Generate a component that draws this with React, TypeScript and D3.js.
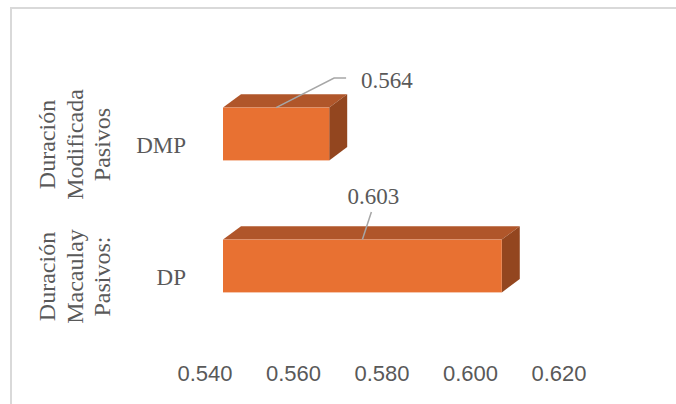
import React from "react";
import * as d3 from "d3";

// Categories (bottom level) and their group captions (top level, wrapped lines)
const categories = ["DMP", "DP"];
const groupLines = [
  ["Duración", "Modificada", "Pasivos"],
  ["Duración", "Macaulay", "Pasivos:"],
];
const values = [0.564, 0.603];
const valueLabels = ["0.564", "0.603"];
const tickValues = [0.54, 0.56, 0.58, 0.6, 0.62];

const W = 676;
const H = 404;

// 3D extrusion offset of the bars (towards the back wall)
const DEPTH_X = 18;
const DEPTH_Y = -13.3;

const FRONT = "#E87132";
const TOP = "#B0562A";
const SIDE = "#93461F";
const TEXT = "#595959";
const LEADER = "#A6A6A6";
const SERIF = "'Liberation Serif', 'Times New Roman', serif";
const SANS = "'Liberation Sans', Arial, sans-serif";

export default function App() {
  const x = d3.scaleLinear().domain([0.54, 0.62]).range([223, 577]);
  const y = d3
    .scaleBand<string>()
    .domain(categories)
    .range([68, 332])
    .paddingInner(0.6)
    .paddingOuter(0.3);
  const bw = y.bandwidth();
  const fmt = d3.format(".3f");

  // label placement per bar: offset from the anchor on the bar's top edge
  const labelLayout = [
    { elbow: [58, -29.5], end: [70, -29.5], text: [85, -20], anchor: "start" },
    { elbow: [9, -27.5], end: [9, -27.5], text: [11, -35.5], anchor: "middle" },
  ];

  return (
    <svg
      width={W}
      height={H}
      style={{ position: "absolute", left: 0, top: 0, background: "#fff" }}
    >
      {/* chart frame */}
      <rect x={11} y={8} width={W + 20} height={H + 20} fill="none" stroke="#D9D9D9" strokeWidth={2} />

      {/* value axis labels (on the floor's front edge) */}
      {tickValues.map((t) => (
        <text
          key={t}
          x={x(t) - DEPTH_X}
          y={381}
          textAnchor="middle"
          fontFamily={SANS}
          fontSize={22}
          fill={TEXT}
        >
          {fmt(t)}
        </text>
      ))}

      {/* bars */}
      {categories.map((c, i) => {
        const x0 = x(0.54);
        const x1 = x(values[i]);
        const y0 = y(c)!;
        const y1 = y0 + bw;
        const top = `M${x0},${y0} L${x0 + DEPTH_X},${y0 + DEPTH_Y} L${x1 + DEPTH_X},${y0 + DEPTH_Y} L${x1},${y0} Z`;
        const side = `M${x1},${y0} L${x1 + DEPTH_X},${y0 + DEPTH_Y} L${x1 + DEPTH_X},${y1 + DEPTH_Y} L${x1},${y1} Z`;
        return (
          <g key={c}>
            <path d={top} fill={TOP} />
            <path d={side} fill={SIDE} />
            <rect x={x0} y={y0} width={x1 - x0} height={bw} fill={FRONT} />
          </g>
        );
      })}

      {/* data labels with leader lines */}
      {categories.map((c, i) => {
        const ax = (x(0.54) + x(values[i])) / 2;
        const ay = y(c)!;
        const L = labelLayout[i];
        return (
          <g key={"lbl" + c}>
            <polyline
              points={`${ax},${ay} ${ax + L.elbow[0]},${ay + L.elbow[1]} ${ax + L.end[0]},${ay + L.end[1]}`}
              fill="none"
              stroke={LEADER}
              strokeWidth={1.5}
            />
            <text
              x={ax + L.text[0]}
              y={ay + L.text[1]}
              textAnchor={L.anchor as any}
              fontFamily={SERIF}
              fontSize={23}
              fill={TEXT}
            >
              {valueLabels[i]}
            </text>
          </g>
        );
      })}

      {/* category labels */}
      {categories.map((c) => (
        <text
          key={"cat" + c}
          x={186}
          y={y(c)! + bw / 2 + 19}
          textAnchor="end"
          fontFamily={SERIF}
          fontSize={23}
          fill={TEXT}
        >
          {c}
        </text>
      ))}

      {/* group captions, rotated */}
      {categories.map((c, i) => {
        const cy = y(c)! + bw / 2 + 10.5;
        return (
          <g key={"grp" + c}>
            {groupLines[i].map((line, j) => (
              <text
                key={j}
                transform={`translate(${55 + j * 27.7},${cy}) rotate(-90)`}
                textAnchor="middle"
                fontFamily={SERIF}
                fontSize={24}
                fill={TEXT}
              >
                {line}
              </text>
            ))}
          </g>
        );
      })}
    </svg>
  );
}
